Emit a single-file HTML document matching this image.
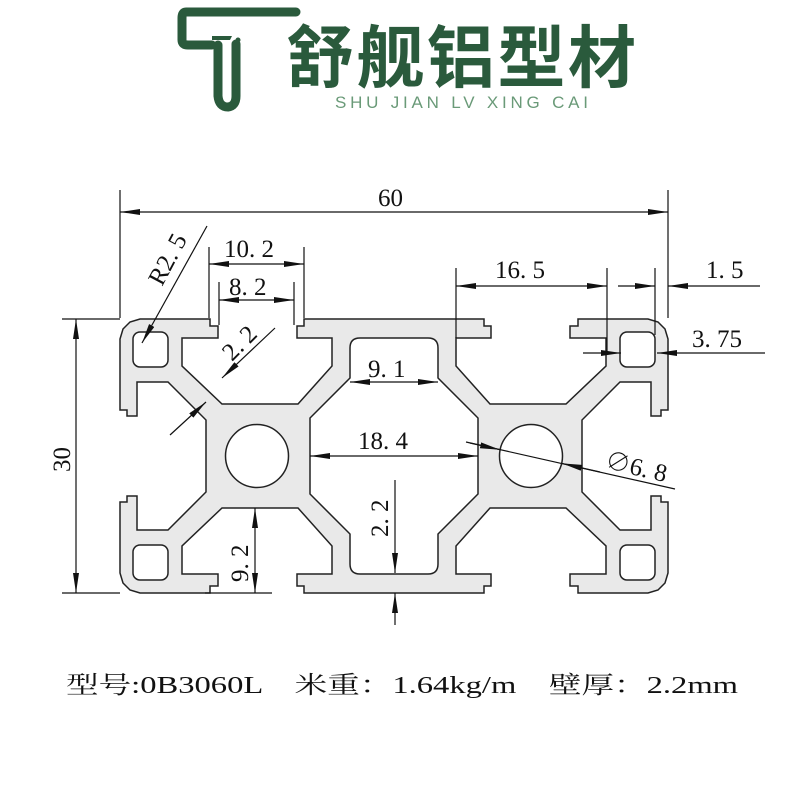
<!DOCTYPE html>
<html><head><meta charset="utf-8"><style>
html,body{margin:0;padding:0;background:#fff;}
svg{display:block;}
.t{font-family:"Liberation Serif","Noto Serif CJK SC",serif;fill:#111;}
</style></head><body>
<svg width="800" height="800" viewBox="0 0 800 800" xmlns="http://www.w3.org/2000/svg">
<defs>
<marker id="a" viewBox="0 0 20 6" refX="20" refY="3" markerWidth="20" markerHeight="6" markerUnits="userSpaceOnUse" orient="auto-start-reverse">
<path d="M0,0 L20,3 L0,6 Z" fill="#111"/></marker>
<polygon id="qf" points="394,319 304,319 304,326 297,326 297,338 332,338 332,366 298,404 222,404 182,366 182,338 218,338 218,326 210,326 210,319 140,319 130,322 123,329 120,339 120,410 127,410 127,416 137,416 137,382 168,382 206,420 206,456 394,456"/>
<polyline id="qs" points="394,319 304,319 304,326 297,326 297,338 332,338 332,366 298,404 222,404 182,366 182,338 218,338 218,326 210,326 210,319 140,319 130,322 123,329 120,339 120,410 127,410 127,416 137,416 137,382 168,382 206,420 206,456"/>
<rect id="sq" x="133" y="332" width="35" height="35" rx="7"/>
</defs>

<!-- logo -->
<g fill="none" stroke="#2a5a3c" stroke-width="9" stroke-linecap="round">
<path d="M296,12 H186 Q182,12 182,18 V40 Q182,45 188,45 H212"/>
<path d="M218,45 V96 Q219,107 228,107 Q236,106 236,96 V44"/>
</g>
<path d="M212,36 L232,36 L230,40 L212,40Z" fill="#2a5a3c"/>
<circle cx="238" cy="40" r="2.5" fill="#2a5a3c"/>
<text x="286" y="82" font-family="'Noto Sans CJK SC',sans-serif" font-weight="bold" font-size="68" fill="#2a5a3c" textLength="350">舒舰铝型材</text>
<text x="335" y="108" font-family="'Liberation Sans',sans-serif" font-size="17" fill="#6a9a78" textLength="253">SHU JIAN LV XING CAI</text>

<!-- profile fill -->
<g fill="#e9e9e9" stroke="none">
<use href="#qf"/>
<use href="#qf" transform="translate(788,0) scale(-1,1)"/>
<use href="#qf" transform="translate(0,912) scale(1,-1)"/>
<use href="#qf" transform="translate(788,912) scale(-1,-1)"/>
</g>
<g fill="none" stroke="#222" stroke-width="1.5">
<use href="#qs"/>
<use href="#qs" transform="translate(788,0) scale(-1,1)"/>
<use href="#qs" transform="translate(0,912) scale(1,-1)"/>
<use href="#qs" transform="translate(788,912) scale(-1,-1)"/>
</g>
<g fill="#fff" stroke="#222" stroke-width="1.5">
<use href="#sq"/>
<use href="#sq" transform="translate(788,0) scale(-1,1)"/>
<use href="#sq" transform="translate(0,912) scale(1,-1)"/>
<use href="#sq" transform="translate(788,912) scale(-1,-1)"/>
<path d="M360,338 H428 Q438,338 438,348 V378 L478,418 V494 L438,534 V564 Q438,574 428,574 H360 Q350,574 350,564 V534 L310,494 V418 L350,378 V348 Q350,338 360,338Z"/>
<circle cx="257" cy="456" r="31.5"/>
<circle cx="531" cy="456" r="31.5"/>
</g>

<!-- dimensions -->
<g stroke="#111" stroke-width="1.2" fill="none">
<line x1="120" y1="190" x2="120" y2="318"/><line x1="668" y1="190" x2="668" y2="318"/>
<line x1="120" y1="212" x2="668" y2="212" marker-start="url(#a)" marker-end="url(#a)"/>
<line x1="62" y1="319" x2="120" y2="319"/><line x1="62" y1="593" x2="120" y2="593"/>
<line x1="76" y1="319" x2="76" y2="593" marker-start="url(#a)" marker-end="url(#a)"/>
<line x1="209" y1="247" x2="209" y2="318"/><line x1="304" y1="247" x2="304" y2="318"/>
<line x1="209" y1="264" x2="304" y2="264" marker-start="url(#a)" marker-end="url(#a)"/>
<line x1="219" y1="282" x2="219" y2="325"/><line x1="294" y1="282" x2="294" y2="325"/>
<line x1="219" y1="300" x2="294" y2="300" marker-start="url(#a)" marker-end="url(#a)"/>
<line x1="207" y1="226" x2="142" y2="343" marker-end="url(#a)"/>
<line x1="275" y1="328" x2="222" y2="378" marker-end="url(#a)"/>
<line x1="170" y1="435" x2="206" y2="402" marker-end="url(#a)"/>
<line x1="350" y1="382" x2="438" y2="382" marker-start="url(#a)" marker-end="url(#a)"/>
<line x1="310" y1="456" x2="478" y2="456" marker-start="url(#a)" marker-end="url(#a)"/>
<line x1="395" y1="480" x2="395" y2="573" marker-end="url(#a)"/>
<line x1="395" y1="625" x2="395" y2="593" marker-end="url(#a)"/>
<line x1="255" y1="508" x2="255" y2="593" marker-start="url(#a)" marker-end="url(#a)"/>
<line x1="205" y1="593" x2="272" y2="593"/>
<line x1="456" y1="268" x2="456" y2="338"/><line x1="607" y1="268" x2="607" y2="352"/>
<line x1="456" y1="286" x2="607" y2="286" marker-start="url(#a)" marker-end="url(#a)"/>
<line x1="655" y1="268" x2="655" y2="335"/>
<line x1="618" y1="286" x2="655" y2="286" marker-end="url(#a)"/>
<line x1="760" y1="286" x2="668" y2="286" marker-end="url(#a)"/>
<line x1="583" y1="353" x2="621" y2="353" marker-end="url(#a)"/>
<line x1="765" y1="353" x2="657" y2="353" marker-end="url(#a)"/>
<line x1="466" y1="442" x2="675" y2="489"/>
<line x1="470" y1="443" x2="500" y2="449.7" marker-end="url(#a)"/>
<line x1="600" y1="472" x2="562" y2="463.4" marker-end="url(#a)"/>
</g>
<g class="t" font-size="25">
<text x="378" y="206">60</text>
<text transform="translate(70,472) rotate(-90)">30</text>
<text x="224" y="257">10. 2</text>
<text x="229" y="295">8. 2</text>
<text transform="translate(162,287) rotate(-62)">R2. 5</text>
<text transform="translate(232,362) rotate(-45)">2. 2</text>
<text x="368" y="377">9. 1</text>
<text x="358" y="449">18. 4</text>
<text transform="translate(388,537) rotate(-90)">2. 2</text>
<text transform="translate(248,582) rotate(-90)">9. 2</text>
<text x="495" y="278">16. 5</text>
<text x="706" y="278">1. 5</text>
<text x="692" y="347">3. 75</text>
<text transform="translate(604,468) rotate(13)">∅6. 8</text>
</g>
<text x="66" y="693" class="t" font-size="24" textLength="672" lengthAdjust="spacingAndGlyphs">型号:0B3060L　米重：1.64kg/m　壁厚：2.2mm</text>
</svg>
</body></html>
